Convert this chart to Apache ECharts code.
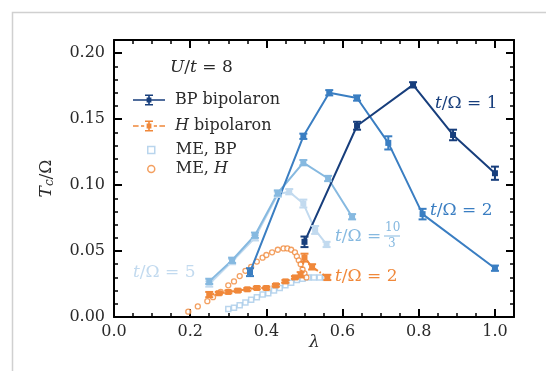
<!DOCTYPE html>
<html><head><meta charset="utf-8">
<script src="https://cdn.jsdelivr.net/npm/echarts@6/dist/echarts.min.js"></script>
<style>html,body{margin:0;padding:0;background:#fff}#c{width:546px;height:371px}</style>
</head><body><div id="c"></div>
<script>
// ---- data ----
const lamBP1 = [0.50, 0.638, 0.785, 0.89, 1.00];
const tcBP1  = [0.057, 0.145, 0.176, 0.138, 0.109];
const errBP1 = [0.004, 0.003, 0.002, 0.004, 0.005];

const lamBP2 = [0.357, 0.497, 0.565, 0.638, 0.72, 0.81, 1.00];
const tcBP2  = [0.034, 0.137, 0.170, 0.166, 0.132, 0.078, 0.037];
const errBP2 = [0.003, 0.002, 0.002, 0.002, 0.005, 0.004, 0.002];

const lamBP103 = [0.25, 0.31, 0.37, 0.43, 0.497, 0.562, 0.625];
const tcBP103  = [0.027, 0.043, 0.062, 0.094, 0.117, 0.105, 0.076];
const errBP103 = [0.002, 0.002, 0.002, 0.002, 0.002, 0.002, 0.002];

const lamBP5 = [0.25, 0.31, 0.37, 0.43, 0.46, 0.497, 0.528, 0.558];
const tcBP5  = [0.025, 0.042, 0.060, 0.093, 0.095, 0.086, 0.066, 0.055];
const errBP5 = [0.002, 0.002, 0.002, 0.002, 0.002, 0.003, 0.003, 0.002];

const lamH = [0.25, 0.275, 0.30, 0.325, 0.35, 0.375, 0.40, 0.425, 0.45, 0.475, 0.49, 0.50, 0.52, 0.56];
const tcH  = [0.017, 0.018, 0.019, 0.020, 0.021, 0.022, 0.022, 0.024, 0.027, 0.030, 0.032, 0.045, 0.038, 0.030];
const errH = [0.002, 0.001, 0.001, 0.001, 0.001, 0.001, 0.001, 0.001, 0.001, 0.001, 0.002, 0.003, 0.002, 0.002];

const lamMEBP = [0.30, 0.315, 0.33, 0.345, 0.36, 0.375, 0.39, 0.405, 0.42, 0.435, 0.45, 0.465, 0.48, 0.495, 0.51, 0.525, 0.54, 0.555];
const tcMEBP  = [0.006, 0.007, 0.009, 0.011, 0.013, 0.015, 0.017, 0.018, 0.020, 0.022, 0.024, 0.026, 0.028, 0.029, 0.030, 0.030, 0.030, 0.030];

const lamMEH = [0.195, 0.22, 0.245, 0.26, 0.28, 0.30, 0.315, 0.33, 0.345, 0.36, 0.375, 0.39, 0.40, 0.415, 0.43, 0.445, 0.455, 0.465, 0.475, 0.48, 0.485, 0.49, 0.495, 0.50, 0.505];
const tcMEH  = [0.004, 0.008, 0.012, 0.015, 0.019, 0.024, 0.027, 0.031, 0.035, 0.038, 0.042, 0.045, 0.047, 0.049, 0.051, 0.052, 0.052, 0.051, 0.049, 0.046, 0.043, 0.040, 0.036, 0.033, 0.030];

const xTicks = [0.0, 0.2, 0.4, 0.6, 0.8, 1.0];
const yTicks = [0.00, 0.05, 0.10, 0.15, 0.20];

// ---- styles ----
const C1 = '#173e7c', C2 = '#3a7ec2', C3 = '#86b9e0', C5 = '#c2daef', CO = '#f0883a', CMB = '#a8cbe8';
const SERIF = '"DejaVu Serif", serif';
const TXT = '#2a2a2a';
const X_MAX = 1.05, Y_MAX = 0.21;

const pairs = (xs, ys) => xs.map((x, i) => [x, ys[i]]);
const triples = (xs, ys, es) => xs.map((x, i) => [x, ys[i], es[i]]);

function errRender(color) {
  return function (params, api) {
    const x = api.value(0), y = api.value(1), e = api.value(2);
    const p = api.coord([x, y]);
    const lo = api.coord([x, y - e]);
    const hi = api.coord([x, y + e]);
    const cw = 4;
    return {
      type: 'group',
      children: [
        { type: 'line', shape: { x1: p[0], y1: lo[1], x2: p[0], y2: hi[1] }, style: { stroke: color, lineWidth: 2 } },
        { type: 'line', shape: { x1: p[0] - cw, y1: lo[1], x2: p[0] + cw, y2: lo[1] }, style: { stroke: color, lineWidth: 2 } },
        { type: 'line', shape: { x1: p[0] - cw, y1: hi[1], x2: p[0] + cw, y2: hi[1] }, style: { stroke: color, lineWidth: 2 } },
        { type: 'rect', shape: { x: p[0] - 3, y: p[1] - 3, width: 6, height: 6 }, style: { fill: color } }
      ]
    };
  };
}
function lineSeries(name, xs, ys, color, dash) {
  return { type: 'line', name: name, data: pairs(xs, ys), symbol: 'none', z: 3,
    lineStyle: { color: color, width: 2, type: dash || 'solid' }, itemStyle: { color: color } };
}
function errSeries(name, xs, ys, es, color) {
  return { type: 'custom', name: name, data: triples(xs, ys, es), renderItem: errRender(color),
    encode: { x: 0, y: 1 }, z: 4, itemStyle: { color: color } };
}

const chart = echarts.init(document.getElementById('c'));

function axisBase(extra, minorSplit) {
  return Object.assign({
    type: 'value',
    axisLine: { show: true, onZero: false, lineStyle: { color: '#000', width: 2 } },
    axisTick: { show: true, inside: true, length: 8, lineStyle: { color: '#000', width: 2 } },
    minorTick: { show: true, splitNumber: minorSplit, length: 4, lineStyle: { color: '#000', width: 1.5 } },
    splitLine: { show: false }
  }, extra);
}

const BPicon = 'path://M0,6H40V8H0Z M19,0H21V14H19Z M15,0H25V2H15Z M15,12H25V14H15Z M17,4H23V10H17Z';
const Hicon = 'path://M0,6H7V8H0Z M10,6H14V8H10Z M26,6H30V8H26Z M33,6H40V8H33Z M19,0H21V14H19Z M15,0H25V2H15Z M15,12H25V14H15Z M17,4H23V10H17Z';

function mathText(str, color, size) {
  return { text: str, rich: {
    i: { fontFamily: SERIF, fontSize: size, fontStyle: 'italic', fill: color },
    n: { fontFamily: SERIF, fontSize: size, fill: color } } };
}

const option = {
  animation: false,
  grid: { left: 114, top: 40, right: 32, bottom: 54 },
  xAxis: [
    axisBase({
      min: 0, max: X_MAX, interval: 0.2, position: 'bottom',
      axisLabel: { color: TXT, fontFamily: SERIF, fontSize: 16, margin: 7, showMaxLabel: false,
        formatter: v => Number(v).toFixed(1) }
    }, 4),
    axisBase({ min: 0, max: X_MAX, interval: 0.2, position: 'top', axisLabel: { show: false } }, 4)
  ],
  yAxis: [
    axisBase({
      min: 0, max: Y_MAX, interval: 0.05, position: 'left',
      axisLabel: { color: TXT, fontFamily: SERIF, fontSize: 16, margin: 9, showMaxLabel: false,
        formatter: v => Number(v).toFixed(2) },
      name: '{i|T}{s|c}{n|/Ω}', nameLocation: 'middle', nameGap: 58, nameRotate: 90,
      nameTextStyle: { color: TXT, fontFamily: SERIF, fontSize: 17,
        rich: {
          i: { fontFamily: SERIF, fontSize: 17, fontStyle: 'italic', color: TXT },
          s: { fontFamily: SERIF, fontSize: 12, fontStyle: 'italic', color: TXT, verticalAlign: 'bottom', padding: [6, 0, 0, 0] },
          n: { fontFamily: SERIF, fontSize: 17, color: TXT }
        } }
    }, 5),
    axisBase({ min: 0, max: Y_MAX, interval: 0.05, position: 'right', axisLabel: { show: false } }, 5)
  ],
  legend: [
    {
      orient: 'vertical', left: 128, top: 87, itemWidth: 32, itemHeight: 14, itemGap: 10,
      selectedMode: false,
      textStyle: { fontFamily: SERIF, fontSize: 16, color: TXT, padding: [0, 0, 0, 5],
        rich: { i: { fontFamily: SERIF, fontSize: 16, fontStyle: 'italic', color: TXT },
                n: { fontFamily: SERIF, fontSize: 16, color: TXT } } },
      formatter: name => name === 'H bipolaron' ? '{i|H}{n| bipolaron}' : name,
      data: [
        { name: 'BP bipolaron', icon: BPicon, itemStyle: { color: C1 } },
        { name: 'H bipolaron', icon: Hicon, itemStyle: { color: CO } }
      ]
    },
    {
      orient: 'vertical', left: 142, top: 137, itemWidth: 7, itemHeight: 7, itemGap: 3,
      selectedMode: false,
      textStyle: { fontFamily: SERIF, fontSize: 16, color: TXT, padding: [0, 0, 0, 16],
        rich: { i: { fontFamily: SERIF, fontSize: 16, fontStyle: 'italic', color: TXT },
                n: { fontFamily: SERIF, fontSize: 16, color: TXT } } },
      formatter: name => name === 'ME, H' ? '{n|ME, }{i|H}' : name,
      data: [
        { name: 'ME, BP', icon: 'rect', itemStyle: { color: '#fff', borderColor: CMB, borderWidth: 1.5 } },
        { name: 'ME, H', icon: 'circle', itemStyle: { color: '#fff', borderColor: CO, borderWidth: 1.5 } }
      ]
    }
  ],
  series: [
    { type: 'scatter', name: 'ME, BP', data: pairs(lamMEBP, tcMEBP), symbol: 'rect', symbolSize: 5, z: 2,
      itemStyle: { color: '#fff', borderColor: CMB, borderWidth: 1.5 } },
    { type: 'scatter', name: 'ME, H', data: pairs(lamMEH, tcMEH), symbol: 'circle', symbolSize: 5, z: 2,
      itemStyle: { color: '#fff', borderColor: CO, borderWidth: 1.3 } },
    lineSeries('t5', lamBP5, tcBP5, C5),
    errSeries('t5e', lamBP5, tcBP5, errBP5, C5),
    lineSeries('t103', lamBP103, tcBP103, C3),
    errSeries('t103e', lamBP103, tcBP103, errBP103, C3),
    lineSeries('t2', lamBP2, tcBP2, C2),
    errSeries('t2e', lamBP2, tcBP2, errBP2, C2),
    lineSeries('BP bipolaron', lamBP1, tcBP1, C1),
    errSeries('t1e', lamBP1, tcBP1, errBP1, C1),
    lineSeries('H bipolaron', lamH, tcH, CO, [5, 2, 1.5, 2]),
    errSeries('He', lamH, tcH, errH, CO)
  ],
  graphic: [
    { type: 'rect', left: 10, top: 10, shape: { width: 600, height: 400 }, silent: true, z: -10,
      style: { fill: 'none', stroke: '#d0d0d0', lineWidth: 1.5 } },
    { type: 'text', left: 309, top: 334, style: mathText('{i|λ}', TXT, 17) },
    { type: 'text', left: 170, top: 59, style: mathText('{i|U}{n|/}{i|t}{n| = 8}', TXT, 17) },
    { type: 'text', left: 435, top: 95, style: mathText('{i|t}{n|/Ω = 1}', C1, 17) },
    { type: 'text', left: 430, top: 202, style: mathText('{i|t}{n|/Ω = 2}', C2, 17) },
    { type: 'text', left: 335, top: 268, style: mathText('{i|t}{n|/Ω = 2}', CO, 17) },
    { type: 'text', left: 133, top: 264, style: mathText('{i|t}{n|/Ω = 5}', C5, 17) },
    { type: 'group', left: 335, top: 222, children: [
      { type: 'text', x: 0, y: 6, style: mathText('{i|t}{n|/Ω = }', C3, 17) },
      { type: 'text', x: 50, y: 0, style: { text: '10', fontFamily: SERIF, fontSize: 12, fill: C3 } },
      { type: 'line', shape: { x1: 49, y1: 14, x2: 65, y2: 14 }, style: { stroke: C3, lineWidth: 1 } },
      { type: 'text', x: 53, y: 16, style: { text: '3', fontFamily: SERIF, fontSize: 12, fill: C3 } }
    ] }
  ]
};
chart.setOption(option);
</script></body></html>
